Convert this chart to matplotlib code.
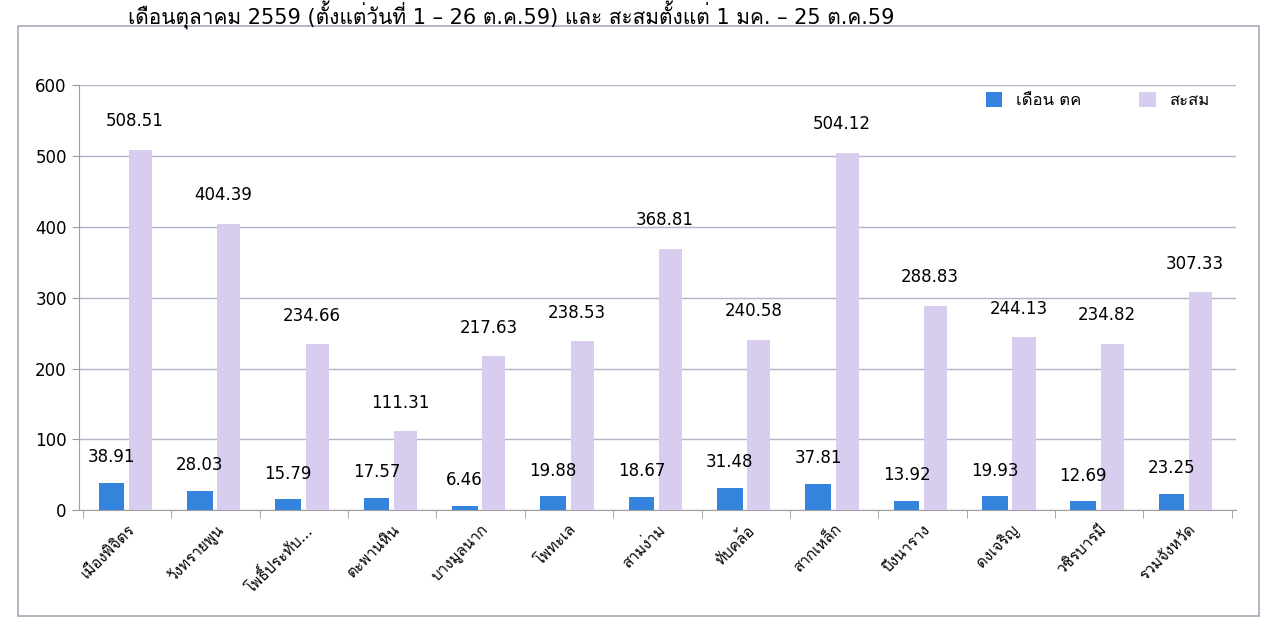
import numpy as np
from matplotlib import pyplot as plt
from matplotlib import font_manager
from matplotlib.ft2font import FT2Font
from matplotlib.patches import Rectangle

districts = ["เมืองพิจิตร", "วังทรายพูน", "โพธิ์ประทับ...", "ตะพานหิน", "บางมูลนาก",
             "โพทะเล", "สามง่าม", "ทับคล้อ", "สากเหล็ก", "บึงนาราง",
             "ดงเจริญ", "วชิรบารมี", "รวมจังหวัด"]
month_oct = [38.91, 28.03, 15.79, 17.57, 6.46, 19.88, 18.67, 31.48, 37.81, 13.92, 19.93, 12.69, 23.25]
cumulative = [508.51, 404.39, 234.66, 111.31, 217.63, 238.53, 368.81, 240.58, 504.12, 288.83, 244.13, 234.82, 307.33]
yticks = [0, 100, 200, 300, 400, 500, 600]
title = "เดือนตุลาคม 2559 (ตั้งแต่วันที่ 1 – 26 ต.ค.59) และ สะสมตั้งแต่ 1 มค. – 25 ต.ค.59"


def thai_family():
    # find an installed font that has Thai glyphs
    for f in font_manager.fontManager.ttflist:
        try:
            if 0x0E01 in FT2Font(f.fname).get_charmap():
                return f.name
        except Exception:
            pass
    return None


def main():
    thai = thai_family()
    fams = ['DejaVu Sans'] + ([thai] if thai else [])
    plt.rcParams['font.family'] = fams

    fig = plt.figure(figsize=(12.69, 6.38), dpi=100)
    ax = fig.add_axes([0.062, 0.2, 0.912, 0.667])

    # outer chart border
    fig.patches.append(Rectangle((0.014, 0.035), 0.978, 0.925, transform=fig.transFigure,
                                 fill=False, edgecolor='#a8a8b8', linewidth=1.2))

    x = np.arange(len(districts))
    w = 0.29
    b1 = ax.bar(x - 0.18, month_oct, w, color='#3483dc', label='เดือน ตค', zorder=3)
    b2 = ax.bar(x + 0.15, cumulative, w * 0.9, color='#d8cdef', label='สะสม', zorder=3)

    for rect, v in zip(b1, month_oct):
        ax.annotate(f"{v:.2f}", (rect.get_x() + rect.get_width() / 2, v), xytext=(0, 12),
                    textcoords='offset points', ha='center', va='bottom', fontsize=12,
                    family='DejaVu Sans')
    for rect, v in zip(b2, cumulative):
        ax.annotate(f"{v:.2f}", (rect.get_x() + rect.get_width() / 2, v), xytext=(-4, 14),
                    textcoords='offset points', ha='center', va='bottom', fontsize=12,
                    family='DejaVu Sans')

    ax.set_ylim(0, 600)
    ax.set_xlim(-0.55, len(districts) - 0.45)
    ax.set_yticks(yticks)
    ax.set_yticklabels([str(t) for t in yticks], fontsize=12)
    ax.set_xticks(x)
    ax.set_xticklabels(districts, rotation=45, ha='right', rotation_mode='anchor', fontsize=11)
    ax.set_xticks(np.arange(len(districts) + 1) - 0.5, minor=True)
    ax.tick_params(axis='x', which='major', length=0, pad=8)
    ax.tick_params(axis='x', which='minor', length=6, color='#999999')
    ax.tick_params(axis='y', length=5, color='#999999')

    ax.grid(axis='y', color='#b6b2c6', linewidth=1, zorder=0)
    for s in ['top', 'right']:
        ax.spines[s].set_visible(False)
    ax.spines['left'].set_color('#a0a0a0')
    ax.spines['bottom'].set_color('#a0a0a0')

    ax.legend(loc='upper right', bbox_to_anchor=(0.99, 1.02), ncol=2, frameon=False,
              fontsize=12, handlelength=1.0, handleheight=1.0, columnspacing=3.5)

    fig.text(0.705, 0.998, title, ha='right', va='top', fontsize=15)

    fig.savefig('out.png', dpi=100)
    return 0


if __name__ == '__main__':
    main()
